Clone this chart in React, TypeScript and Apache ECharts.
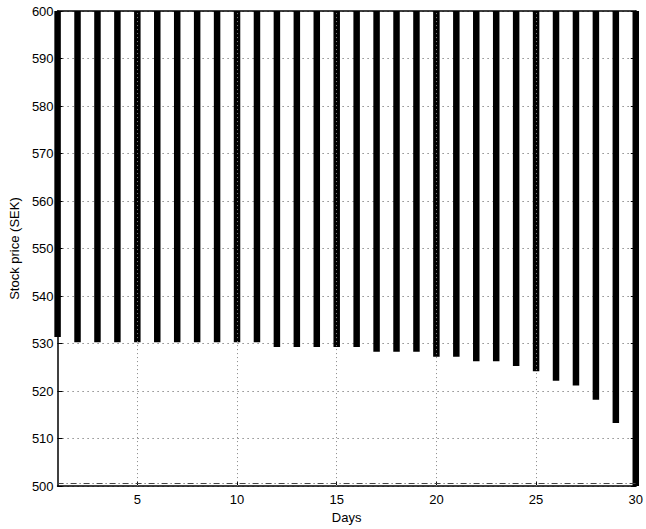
import React, { useEffect, useRef } from "react";
import * as echarts from "echarts";

// Trading days along the x axis
const days: number[] = Array.from({ length: 30 }, (_, i) => i + 1);

// Lower end of each day's price band (SEK)
const lowPrices: number[] = [
  531.4, 530.3, 530.3, 530.3, 530.3, 530.3, 530.3, 530.3, 530.3, 530.3,
  530.3, 529.3, 529.3, 529.3, 529.3, 529.3, 528.3, 528.3, 528.3, 527.2,
  527.2, 526.3, 526.3, 525.3, 524.2, 522.2, 521.2, 518.2, 513.3, 500.0,
];

// Upper end of each band (SEK)
const highPrices: number[] = days.map(() => 600);

// Tick values
const xTicks: number[] = [5, 10, 15, 20, 25, 30];
const xGrid: number[] = [5, 10, 15, 20, 25];
const strikeLevel = 500.5;

const FONT = "'Liberation Sans', Arial, Helvetica, sans-serif";

export default function App() {
  const ref = useRef<HTMLDivElement>(null);

  useEffect(() => {
    if (!ref.current) return;
    const chart = echarts.init(ref.current, null, { renderer: "svg" });

    const bands = days.map((d, i) => [d, lowPrices[i], highPrices[i]]);

    const labelStyle = { color: "#000", fontFamily: FONT, fontSize: 13 };

    chart.setOption({
      animation: false,
      backgroundColor: "#fff",
      grid: { left: 54, right: 6, top: 11, bottom: 40, containLabel: false },
      xAxis: [
        {
          type: "value",
          min: 1,
          max: 30,
          position: "bottom",
          name: "Days",
          nameLocation: "middle",
          nameGap: 20,
          nameTextStyle: labelStyle,
          axisLine: { show: true, onZero: false, lineStyle: { color: "#000", width: 1.5 } },
          axisTick: { show: true, inside: true, length: 5, customValues: xTicks, lineStyle: { color: "#000" } },
          axisLabel: { show: true, customValues: xTicks, margin: 7, ...labelStyle },
          splitLine: { show: false },
        },
        {
          type: "value",
          min: 1,
          max: 30,
          position: "top",
          axisLine: { show: true, onZero: false, lineStyle: { color: "#000", width: 1.5 } },
          axisTick: { show: true, inside: true, length: 5, customValues: xTicks, lineStyle: { color: "#000" } },
          axisLabel: { show: false },
          splitLine: { show: false },
        },
      ],
      yAxis: [
        {
          type: "value",
          min: 500,
          max: 600,
          interval: 10,
          position: "left",
          name: "Stock price (SEK)",
          nameLocation: "middle",
          nameGap: 31,
          nameTextStyle: labelStyle,
          axisLine: { show: true, onZero: false, lineStyle: { color: "#000", width: 1.5 } },
          axisTick: { show: true, inside: true, length: 5, lineStyle: { color: "#000" } },
          axisLabel: { show: true, margin: 4, ...labelStyle },
          splitLine: { show: true, lineStyle: { color: "#555", width: 1, type: [1, 4] } },
        },
        {
          type: "value",
          min: 500,
          max: 600,
          interval: 10,
          position: "right",
          axisLine: { show: true, onZero: false, lineStyle: { color: "#000", width: 1.5 } },
          axisTick: { show: true, inside: true, length: 5, lineStyle: { color: "#000" } },
          axisLabel: { show: false },
          splitLine: { show: false },
        },
      ],
      series: [
        {
          type: "line",
          xAxisIndex: 0,
          yAxisIndex: 0,
          data: [],
          z: 1,
          silent: true,
          markLine: {
            silent: true,
            symbol: "none",
            label: { show: false },
            animation: false,
            data: [
              ...xGrid.map((v) => ({
                xAxis: v,
                lineStyle: { color: "#888", width: 1, type: [1, 3] },
              })),
              {
                yAxis: strikeLevel,
                lineStyle: { color: "#444", width: 1, type: [6, 3, 1, 3] },
              },
            ],
          },
        },
        {
          type: "custom",
          xAxisIndex: 0,
          yAxisIndex: 0,
          z: 3,
          clip: false,
          silent: true,
          data: bands,
          renderItem: (_params: any, api: any) => {
            const x = api.value(0);
            const lo = api.value(1);
            const hi = api.value(2);
            const top = api.coord([x, hi]);
            const bottom = api.coord([x, lo]);
            const w = 6.5;
            return {
              type: "rect",
              shape: { x: top[0] - w / 2, y: top[1], width: w, height: bottom[1] - top[1] },
              style: { fill: "#000" },
            };
          },
        },
      ],
    });

    return () => chart.dispose();
  }, []);

  return (
    <div
      ref={ref}
      style={{ position: "fixed", left: 0, top: 0, width: 646, height: 529, background: "#fff" }}
    />
  );
}
